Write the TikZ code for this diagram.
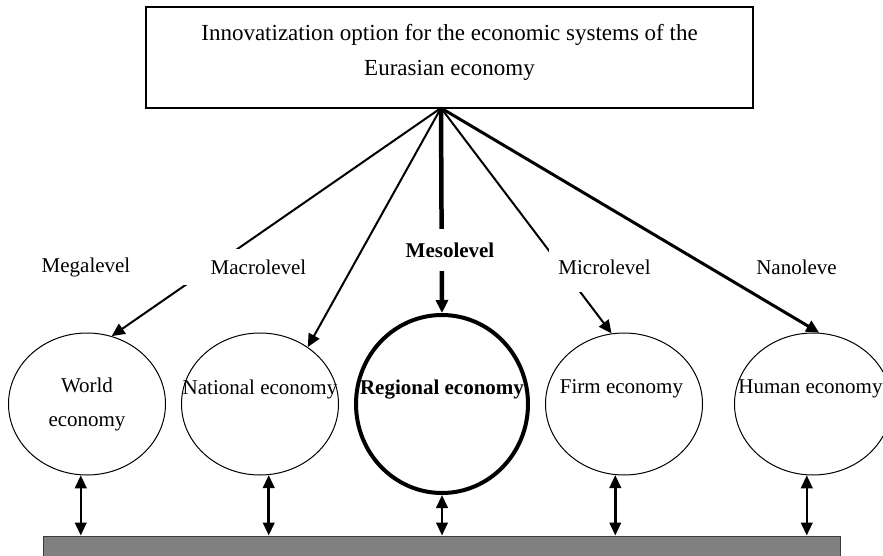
\documentclass[tikz,border=0pt]{standalone}
\usepackage{fontspec}
\setmainfont{Liberation Serif}
\usetikzlibrary{shapes.geometric,arrows.meta}
\definecolor{barfill}{HTML}{808080}
\definecolor{barline}{HTML}{3C3C3C}
\newcommand{\econline}[1]{\makebox[0pt]{#1}}
\tikzset{
  topbox/.style={draw, line width=1.2pt, minimum width=607pt, minimum height=101pt,
                 align=center, font=\fontsize{23}{35}\selectfont, inner sep=0pt},
  econ/.style={ellipse, draw, line width=1pt, minimum width=157pt, minimum height=142pt,
               inner sep=0pt, align=center, font=\fontsize{21}{34}\selectfont},
  mainecon/.style={econ, line width=4pt, minimum width=172pt, minimum height=178pt,
                   font=\fontsize{21}{34}\selectfont\bfseries},
  levellabel/.style={fill=white, inner sep=0pt, font=\fontsize{21}{25}\selectfont},
  ground/.style={draw=barline, fill=barfill, line width=1pt, minimum width=797pt,
                 minimum height=26pt, inner sep=0pt},
  feed/.style={-{Triangle[length=13pt, width=12pt]}, line width=2pt},
  twoway/.style={{Triangle[length=13pt, width=11.5pt]}-{Triangle[length=13pt, width=11.5pt]},
                 line width=2.5pt},
}

\begin{document}
\begin{tikzpicture}[x=1pt, y=-1pt]
  \useasboundingbox (0,0) rectangle (883,556);
  \node[topbox, text depth=15pt] (title) at (449.5,57.5)
    {Innovatization option for the economic systems of the\\Eurasian economy};
  \node[econ] (world) at (87,404) {\econline{World}\\\econline{economy}};
  \node[econ] (national) at (260,404) {\econline{National economy}\\\mbox{}};
  \node[mainecon] (regional) at (442,404) {\econline{Regional economy}\\\mbox{}};
  \node[econ] (firm) at (624,404) {\econline{\kern-5pt Firm economy}\\\mbox{}};
  \node[econ] (human) at (813,404) {\econline{\kern-5pt Human economy}\\\mbox{}};
  \node[ground] (base) at (441.5,549) {};
  \coordinate (apex) at (441,108);
  \draw[feed] (apex) -- (world.70);
  \draw[feed] (apex) -- (national.50);
  \draw[feed, line width=4.5pt] (apex) -- (regional.north);
  \draw[feed] (apex) -- (firm.100);
  \draw[feed, line width=3pt] (apex) -- (human.85);
  \foreach \e/\a in {world/265, national/277, regional/270, firm/263, human/265}
    \draw[twoway] (\e.\a) -- (\e.\a |- base.north);
  \node[levellabel] (mega) at (86,267) {Megalevel};
  \node[levellabel, inner xsep=31pt, inner ysep=10.5pt] (macro) at (258.5,267) {Macrolevel};
  \node[levellabel, inner ysep=14pt, font=\fontsize{21}{25}\selectfont\bfseries] (meso) at (450,250) {Mesolevel};
  \node[levellabel, inner xsep=9pt, inner ysep=17.8pt] (micro) at (604.5,267) {Microlevel};
  \node[levellabel] (nano) at (796.5,267) {Nanoleve};
\end{tikzpicture}
\end{document}
